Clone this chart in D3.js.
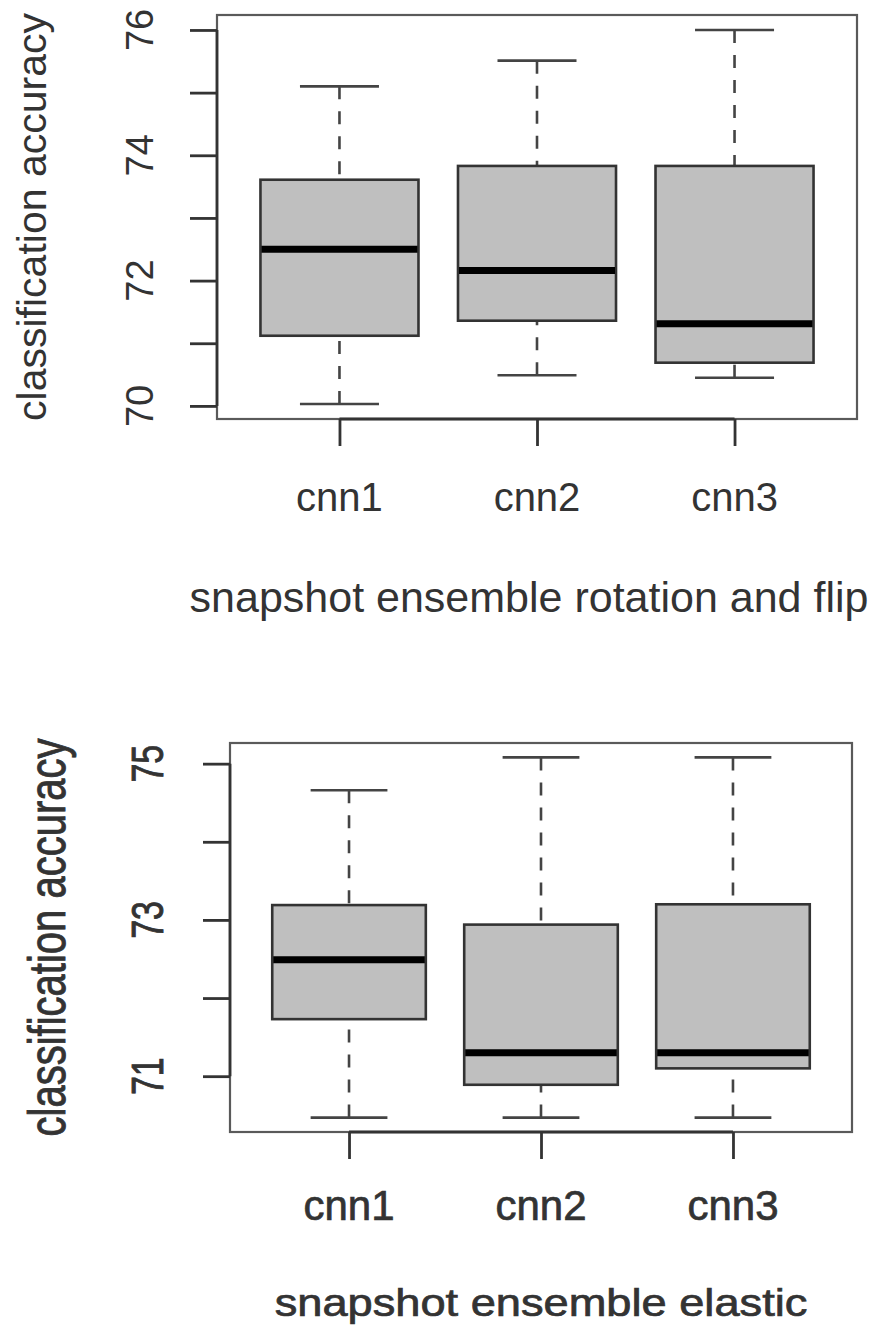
<!DOCTYPE html>
<html>
<head>
<meta charset="utf-8">
<script src="https://cdn.jsdelivr.net/npm/d3@7"></script>
<style>
  body { margin: 0; background: #fff; }
  text { font-family: "Liberation Sans", Arial, sans-serif; }
</style>
</head>
<body>
<div id="chart"></div>
<script>
const width = 887,
    height = 1328;

// groups on the x axis
const categories = ["cnn1", "cnn2", "cnn3"];

// boxplot stats per group: lower whisker, Q1, median, Q3, upper whisker
const rotFlipStats = [
  [70.03, 71.12, 72.50, 73.61, 75.10],
  [70.49, 71.36, 72.16, 73.83, 75.51],
  [70.45, 70.69, 71.31, 73.83, 76.00]
];
const elasticStats = [
  [70.47, 71.73, 72.49, 73.19, 74.66],
  [70.47, 70.89, 71.30, 72.94, 75.08],
  [70.47, 71.10, 71.30, 73.20, 75.08]
];

// y ticks (every integer) and the ones that get a label
const rotFlipTicks = [70, 71, 72, 73, 74, 75, 76];
const rotFlipLabels = [70, 72, 74, 76];
const elasticTicks = [71, 72, 73, 74, 75];
const elasticLabels = [71, 73, 75];

const yTitle = "classification accuracy";
const rotFlipTitle = "snapshot ensemble rotation and flip";
const elasticTitle = "snapshot ensemble elastic";

const svg = d3.select("#chart").append("svg")
    .attr("width", width)
    .attr("height", height);

function panel(opt) {
  const g = svg.append("g");

  // R style: pad the data range by 4%
  const lo = d3.min(opt.stats, d => d[0]),
      hi = d3.max(opt.stats, d => d[4]),
      pad = (hi - lo) * 0.04;

  const y = d3.scaleLinear()
      .domain([lo - pad, hi + pad])
      .range([opt.bottom, opt.top]);

  const x = d3.scalePoint()
      .domain(categories)
      .range([opt.left, opt.right])
      .padding(0.62);

  const step = x.step(),
      boxW = step * 0.8,
      capW = step * 0.4;

  // plot frame
  g.append("rect")
      .attr("x", opt.left)
      .attr("y", opt.top)
      .attr("width", opt.right - opt.left)
      .attr("height", opt.bottom - opt.top)
      .attr("fill", "none")
      .attr("stroke", "#5a5a5a")
      .attr("stroke-width", 2.2);

  const boxes = g.selectAll(".box")
      .data(opt.stats)
      .join("g")
      .attr("class", "box")
      .attr("transform", (d, i) => `translate(${x(categories[i])},0)`);

  // whiskers, dashed from the cap to the box
  boxes.append("line")
      .attr("y1", d => y(d[4])).attr("y2", d => y(d[3]))
      .attr("stroke", "#444").attr("stroke-width", 2.6)
      .attr("stroke-dasharray", "13,12");
  boxes.append("line")
      .attr("y1", d => y(d[0])).attr("y2", d => y(d[1]))
      .attr("stroke", "#444").attr("stroke-width", 2.6)
      .attr("stroke-dasharray", "13,12");

  // caps
  boxes.selectAll(".cap")
      .data(d => [d[0], d[4]])
      .join("line")
      .attr("x1", -capW / 2).attr("x2", capW / 2)
      .attr("y1", v => y(v)).attr("y2", v => y(v))
      .attr("stroke", "#444").attr("stroke-width", 2.6);

  boxes.append("rect")
      .attr("x", -boxW / 2)
      .attr("width", boxW)
      .attr("y", d => y(d[3]))
      .attr("height", d => y(d[1]) - y(d[3]))
      .attr("fill", "#bfbfbf")
      .attr("stroke", "#333")
      .attr("stroke-width", 2.6);

  boxes.append("line")
      .attr("x1", -boxW / 2 + 1).attr("x2", boxW / 2 - 1)
      .attr("y1", d => y(d[2])).attr("y2", d => y(d[2]))
      .attr("stroke", "#000").attr("stroke-width", 7);

  // y axis
  const yAxis = g.append("g")
      .attr("transform", `translate(${opt.left},0)`)
      .call(d3.axisLeft(y).tickValues(opt.ticks).tickSize(27).tickSizeOuter(0).tickFormat(""));
  yAxis.select(".domain")
      .attr("d", `M0,${y(d3.min(opt.ticks))}V${y(d3.max(opt.ticks))}`);
  yAxis.selectAll("line, path")
      .attr("stroke", "#333").attr("stroke-width", 2.8);

  g.selectAll(".ylab")
      .data(opt.labels)
      .join("text")
      .attr("class", "ylab")
      .attr("transform", v => `translate(${opt.yLabelX},${y(v)}) scale(${opt.sx},1) rotate(-90)`)
      .attr("text-anchor", "middle")
      .attr("font-size", opt.tickFont)
      .attr("fill", "#333")
      .attr("stroke", "#333").attr("stroke-width", opt.weight)
      .text(v => v);

  // x axis
  const xAxis = g.append("g")
      .attr("transform", `translate(0,${opt.bottom})`)
      .call(d3.axisBottom(x).tickSize(27).tickSizeOuter(0).tickFormat(""));
  xAxis.select(".domain")
      .attr("d", `M${x(categories[0])},0H${x(categories[categories.length - 1])}`);
  xAxis.selectAll("line, path")
      .attr("stroke", "#333").attr("stroke-width", 2.8);

  g.selectAll(".xlab")
      .data(categories)
      .join("text")
      .attr("class", "xlab")
      .attr("x", d => x(d))
      .attr("y", opt.xLabelY)
      .attr("text-anchor", "middle")
      .attr("font-size", opt.xFont)
      .attr("fill", "#333")
      .attr("stroke", "#333").attr("stroke-width", opt.weight)
      .text(d => d);

  // axis titles
  g.append("text")
      .attr("transform", `translate(${opt.yTitleX},${(opt.top + opt.bottom) / 2}) scale(${opt.sx},1) rotate(-90)`)
      .attr("text-anchor", "middle")
      .attr("font-size", opt.titleFont)
      .attr("fill", "#333")
      .attr("stroke", "#333").attr("stroke-width", opt.weight)
      .text(yTitle);

  g.append("text")
      .attr("transform", `translate(${opt.xTitleX},${opt.xTitleY}) scale(${opt.tx},1)`)
      .attr("text-anchor", "middle")
      .attr("font-size", opt.xTitleFont)
      .attr("fill", "#333")
      .attr("stroke", "#333").attr("stroke-width", opt.weight)
      .text(opt.title);
}

panel({
  stats: rotFlipStats, ticks: rotFlipTicks, labels: rotFlipLabels, title: rotFlipTitle,
  left: 217, right: 857, top: 15, bottom: 419,
  yLabelX: 153, yTitleX: 46, xLabelY: 511, xTitleX: 529, xTitleY: 612,
  tickFont: 38, xFont: 40, titleFont: 41, xTitleFont: 43, sx: 1, tx: 1, weight: 0
});

panel({
  stats: elasticStats, ticks: elasticTicks, labels: elasticLabels, title: elasticTitle,
  left: 230, right: 852, top: 743, bottom: 1132,
  yLabelX: 163, yTitleX: 65, xLabelY: 1220, xTitleX: 541, xTitleY: 1316,
  tickFont: 34, xFont: 42, titleFont: 40, xTitleFont: 38, sx: 1.28, tx: 1.19, weight: 0.7
});
</script>
</body>
</html>
